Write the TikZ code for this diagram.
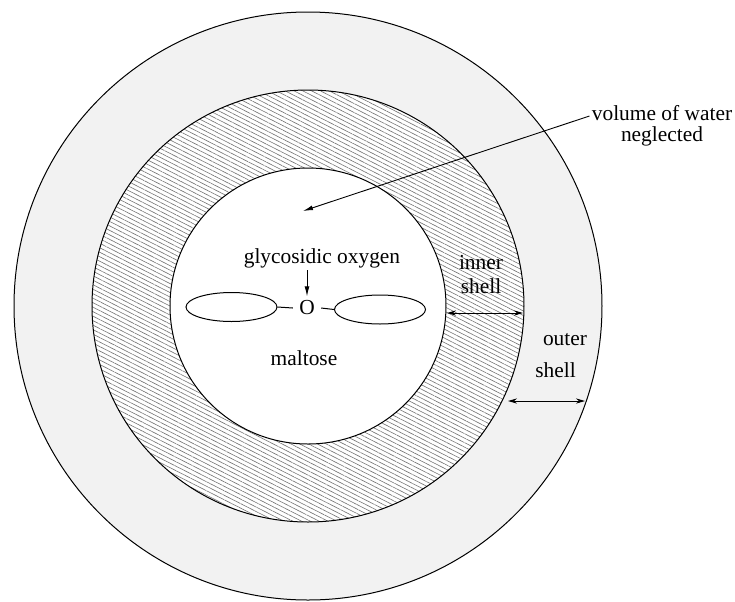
\documentclass[tikz,border=0pt]{standalone}
\usepackage{fontspec}
\setmainfont{Liberation Serif}
\usetikzlibrary{arrows.meta,shapes.geometric,patterns.meta}

\begin{document}
\begin{tikzpicture}[
  x=0.5pt, y=-0.5pt,
  font=\fontsize{10.7}{12}\selectfont,
  shellline/.style={line width=0.5pt},
  outerfill/.style={fill=black!5},
  hatch/.style={pattern={Lines[angle=-27,distance=2pt,line width=0.3pt]}, pattern color=black!55},
  ring/.style={draw, ellipse, line width=0.5pt, minimum width=45.5pt, minimum height=14.5pt, inner sep=0pt},
  lbl/.style={align=center, inner sep=1pt},
  bond/.style={line width=0.5pt},
  lead/.style={-{Latex[length=5pt,width=2.4pt]}, line width=0.45pt},
  dim/.style={{Stealth[length=4.5pt,width=2.6pt]}-{Stealth[length=4.5pt,width=2.6pt]}, line width=0.45pt},
]
\useasboundingbox (0,0) rectangle (735,601);
\coordinate (c) at (308,306);
% shells
\fill[outerfill] (c) circle[radius=147pt];
\fill[white] (c) circle[radius=108pt];
\fill[hatch] (c) circle[radius=108pt];
\fill[white] (c) circle[radius=69pt];
\draw[shellline] (c) circle[radius=147pt];
\draw[shellline] (c) circle[radius=108pt];
\draw[shellline] (c) circle[radius=69pt];
% maltose
\node[ring] (lw) at (231.5,307) {};
\node[ring] (rw) at (380,309.5) {};
\node[inner xsep=3pt, inner ysep=2pt] (ox) at (307,308) {O};
\draw[bond] (lw.east) -- (ox.west);
\draw[bond] (ox.east) -- (rw.west);
\node[lbl] (gly) at (322,258) {glycosidic oxygen};
\node[lbl] (mal) at (304,358) {maltose};
\draw[lead] (gly.south -| ox.north) -- (ox.north);
% labels
\node[lbl, font=\fontsize{10.7}{10.5}\selectfont] (water) at (662,126) {volume of water\\neglected};
\coordinate (vtip) at (303,211);
\draw[lead] ([yshift=5pt]water.west) -- (vtip);
\node[lbl] (inner) at (481,275) {inner\\shell};
\coordinate (ia) at (447,313);
\coordinate (ib) at (523,313);
\draw[dim] (ia) -- (ib);
\node[lbl] (outa) at (565,340) {outer};
\node[lbl] (outb) at (555.5,370) {shell};
\coordinate (oa) at (508,401);
\coordinate (ob) at (585,401);
\draw[dim] (oa) -- (ob);
\end{tikzpicture}
\end{document}
